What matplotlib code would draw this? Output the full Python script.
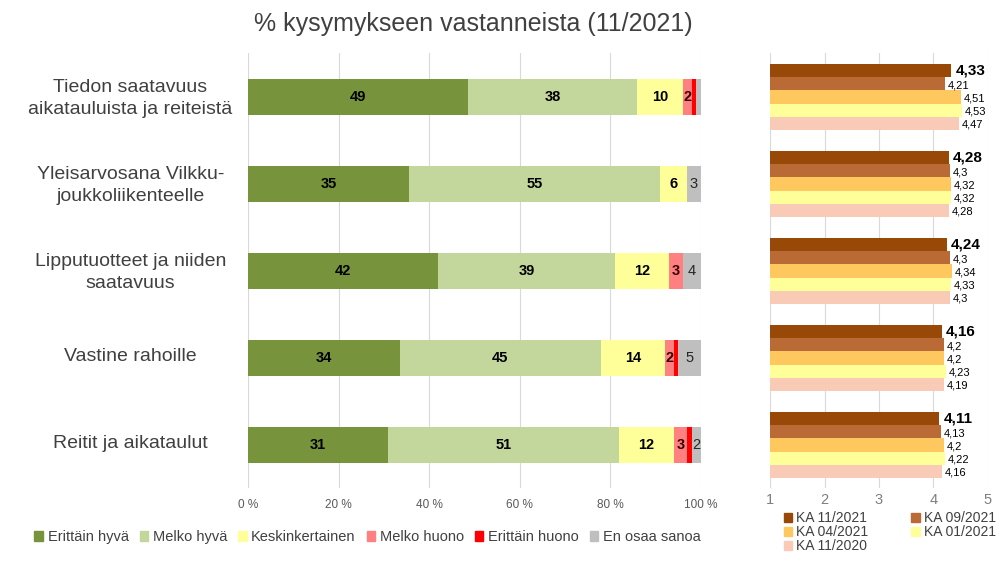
import matplotlib
matplotlib.use("Agg")
import matplotlib.pyplot as plt
from matplotlib.patches import Patch
import numpy as np

plt.rcParams['font.family'] = ['Liberation Sans', 'DejaVu Sans']

# data
questions = ['Tiedon saatavuus\naikatauluista ja reiteistä',
             'Yleisarvosana Vilkku-\njoukkoliikenteelle',
             'Lipputuotteet ja niiden\nsaatavuus',
             'Vastine rahoille',
             'Reitit ja aikataulut']
answers = ['Erittäin hyvä', 'Melko hyvä', 'Keskinkertainen',
           'Melko huono', 'Erittäin huono', 'En osaa sanoa']
erittain_hyva = [48.5, 35.5, 42, 33.5, 31]
melko_hyva = [37.5, 55.5, 39, 44.5, 51]
keskinkertainen = [10, 6, 12, 14, 12]
melko_huono = [2, 0, 3, 2, 3]
erittain_huono = [1, 0, 0, 1, 1]
en_osaa = [1, 3, 4, 5, 2]
shares = [erittain_hyva, melko_hyva, keskinkertainen, melko_huono, erittain_huono, en_osaa]
share_labels = [[49, 35, 42, 34, 31],
                [38, 55, 39, 45, 51],
                [10, 6, 12, 14, 12],
                [2, None, 3, 2, 3],
                [None, None, None, None, None],
                [None, 3, 4, 5, 2]]

periods = ['KA 11/2021', 'KA 09/2021', 'KA 04/2021', 'KA 01/2021', 'KA 11/2020']
ka_11_2021 = [4.33, 4.28, 4.24, 4.16, 4.11]
ka_09_2021 = [4.21, 4.3, 4.3, 4.2, 4.13]
ka_04_2021 = [4.51, 4.32, 4.34, 4.2, 4.2]
ka_01_2021 = [4.53, 4.32, 4.33, 4.23, 4.22]
ka_11_2020 = [4.47, 4.28, 4.3, 4.19, 4.16]
averages = [ka_11_2021, ka_09_2021, ka_04_2021, ka_01_2021, ka_11_2020]

share_colors = ['#77933c', '#c3d69b', '#ffff99', '#ff8080', '#ff0000', '#bfbfbf']
label_colors = ['black', 'black', 'black', '#3a0000', 'black', '#262626']
label_weights = ['bold', 'bold', 'bold', 'bold', 'bold', 'normal']
avg_colors = ['#984807', '#b96a35', '#ffc85f', '#ffff99', '#f9cbb7']

fig = plt.figure(figsize=(10.04, 5.69), dpi=100)

# ---- left: stacked shares
ax = fig.add_axes([0.247, 0.1415, 0.451, 0.7645])
y = np.arange(len(questions))
left = np.zeros(len(questions))
for vals, col, labs, lc, lw in zip(shares, share_colors, share_labels, label_colors, label_weights):
    vals = np.array(vals, dtype=float)
    ax.barh(y, vals, left=left, height=0.41, color=col, zorder=2)
    for i, lab in enumerate(labs):
        if lab is not None:
            ax.text(left[i] + vals[i] / 2, y[i], str(lab), ha='center', va='center',
                    fontsize=10.5, fontweight=lw, color=lc, zorder=3)
    left += vals

ax.set_xlim(0, 100)
ax.set_ylim(len(questions) - 0.5, -0.5)
ax.set_xticks(range(0, 101, 20))
ax.set_xticklabels([f'{v} %' for v in range(0, 101, 20)], fontsize=8.5, color='#595959')
ax.set_yticks(y - 0.04)
ax.set_yticklabels(questions, fontsize=14, color='#404040', linespacing=1.4)
ax.tick_params(axis='y', length=0, pad=0)
ax.tick_params(axis='x', length=0, pad=7.5)
ax.grid(axis='x', color='#d9d9d9', lw=0.8, zorder=0)
for s in ax.spines.values():
    s.set_visible(False)
for lab in ax.get_yticklabels():
    lab.set_horizontalalignment('center')
    lab.set_x(-0.26)
fig.text(0.471, 0.958, '% kysymykseen vastanneista (11/2021)', ha='center', va='center',
         fontsize=18, color='#404040')

handles = [Patch(color=c, label=a) for c, a in zip(share_colors, answers)]
fig.legend(handles=handles, loc='center', bbox_to_anchor=(0.366, 0.056), ncol=6,
           frameon=False, fontsize=10.5, handlelength=0.6, handleheight=0.6,
           handletextpad=0.3, columnspacing=0.75, labelcolor='#404040')

# ---- right: averages
ax2 = fig.add_axes([0.767, 0.1415, 0.217, 0.7645])
h = 0.15
for k, (vals, col) in enumerate(zip(averages, avg_colors)):
    pos = y - 2 * h + k * h
    ax2.barh(pos, np.array(vals) - 1, left=1, height=h, color=col, zorder=2)
    for p, v in zip(pos, vals):
        txt = f'{v:g}'.replace('.', ',')
        if k == 0:
            ax2.text(v + 0.07, p - 0.01, txt, ha='left', va='center', fontsize=11,
                     fontweight='bold', color='black')
        else:
            ax2.text(v + 0.05, p + 0.02, txt, ha='left', va='center', fontsize=8, color='black')
ax2.set_xlim(1, 5)
ax2.set_ylim(len(questions) - 0.5, -0.5)
ax2.set_xticks(range(1, 6))
ax2.set_xticklabels([str(v) for v in range(1, 6)], fontsize=10.5, color='#7f7f7f')
ax2.set_yticks([])
ax2.tick_params(axis='x', length=0, pad=3)
ax2.grid(axis='x', color='#d9d9d9', lw=0.8, zorder=0)
for s in ax2.spines.values():
    s.set_visible(False)

# row-wise order like the original legend
order = [0, 2, 4, 1, 3]
handles2 = [Patch(color=avg_colors[i], label=periods[i]) for i in order]
fig.legend(handles=handles2, loc='upper left', bbox_to_anchor=(0.775, 0.111), ncol=2,
           frameon=False, fontsize=10, handlelength=0.6, handleheight=0.6,
           handletextpad=0.3, columnspacing=3.1, labelspacing=0.0, labelcolor='#404040',
           borderaxespad=0)

fig.savefig('out.png', dpi=100)
